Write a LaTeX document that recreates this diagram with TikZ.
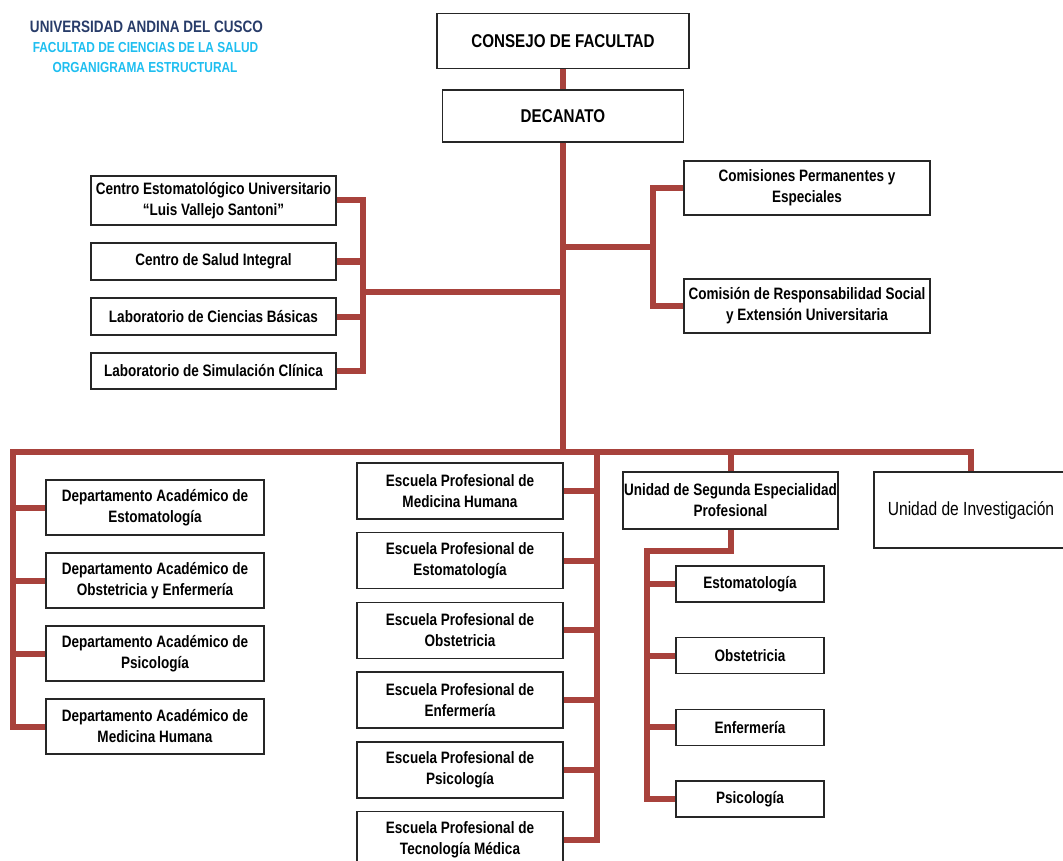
\documentclass[tikz,border=0pt]{standalone}
\usepackage{fontspec}
\setmainfont{Liberation Sans}[FakeStretch=0.82]
\usetikzlibrary{positioning}

\definecolor{linkred}{RGB}{168,66,60}
\definecolor{unidark}{RGB}{40,60,105}
\definecolor{unilight}{RGB}{30,190,240}

\tikzset{
  unit/.style={draw=black!85, line width=1.5pt, align=center, inner sep=0pt,
    font=\fontsize{16.5}{21}\selectfont\bfseries},
  link/.style={draw=linkred, line width=6pt},
  heading/.style={inner sep=0pt, font=\fontsize{14.5}{17}\selectfont\bfseries, text=unilight}
}

\begin{document}
\begin{tikzpicture}[x=1pt, y=-1pt]
      \useasboundingbox (0,0) rectangle (1063,861);

      % heading
      \node [heading, text=unidark, font=\fontsize{16.5}{20}\selectfont\bfseries] (uni) at (146.5,27) {UNIVERSIDAD ANDINA DEL CUSCO};
      \node [heading] (fac) at (145.5,48) {FACULTAD DE CIENCIAS DE LA SALUD};
      \node [heading] (org) at (145,68) {ORGANIGRAMA ESTRUCTURAL};

      % top
      \node [unit, minimum width=252, minimum height=55, font=\fontsize{18.5}{22}\selectfont\bfseries] (consejo) at (563,41) {CONSEJO DE FACULTAD};
      \node [unit, minimum width=241, minimum height=52, font=\fontsize{18.5}{22}\selectfont\bfseries] (decanato) at (563,116) {DECANATO};

      % left group
      \node [unit, minimum width=245, minimum height=49] (centro) at (213.5,200.5) {Centro Estomatológico Universitario\\“Luis Vallejo Santoni”};
      \node [unit, minimum width=245, minimum height=37] (salud) at (213.5,261.5) {Centro de Salud Integral};
      \node [unit, minimum width=245, minimum height=37] (labcb) at (213.5,316.5) {Laboratorio de Ciencias Básicas};
      \node [unit, minimum width=245, minimum height=36] (labsim) at (213.5,371) {Laboratorio de Simulación Clínica};

      % right group
      \node [unit, minimum width=246, minimum height=54] (comper) at (807,188) {Comisiones Permanentes y\\Especiales};
      \node [unit, minimum width=246, minimum height=54] (comres) at (807,306) {Comisión de Responsabilidad Social\\y Extensión Universitaria};

      % departamentos
      \begin{scope}[node distance=73pt, every node/.append style={unit, minimum width=218, minimum height=55}]
      \node (dep1) at (155,507.5) {Departamento Académico de\\Estomatología};
      \node [below of = dep1] (dep2) {Departamento Académico de\\Obstetricia y Enfermería};
      \node [below of = dep2] (dep3) {Departamento Académico de\\Psicología};
      \node [below of = dep3] (dep4) {Departamento Académico de\\Medicina Humana};
      \end{scope}

      % escuelas
      \begin{scope}[node distance=69.7pt, every node/.append style={unit, minimum width=206, minimum height=56}]
      \node (esc1) at (460,491) {Escuela Profesional de\\Medicina Humana};
      \node [below of = esc1] (esc2) {Escuela Profesional de\\Estomatología};
      \node [below of = esc2] (esc3) {Escuela Profesional de\\Obstetricia};
      \node [below of = esc3] (esc4) {Escuela Profesional de\\Enfermería};
      \node [below of = esc4] (esc5) {Escuela Profesional de\\Psicología};
      \node [below of = esc5] (esc6) {Escuela Profesional de\\Tecnología Médica};
      \end{scope}

      % segunda especialidad
      \node [unit, minimum width=215, minimum height=57] (seg) at (730.5,500.5) {Unidad de Segunda Especialidad\\Profesional};
      \begin{scope}[node distance=71.7pt, every node/.append style={unit, minimum width=148, minimum height=36}]
      \node (esp1) at (750,584) {Estomatología};
      \node [below of = esp1] (esp2) {Obstetricia};
      \node [below of = esp2] (esp3) {Enfermería};
      \node [below of = esp3] (esp4) {Psicología};
      \end{scope}

      \node [unit, minimum width=194, minimum height=76, font=\fontsize{19}{23}\selectfont] (inv) at (971,510) {Unidad de Investigación};

      % connectors
      \coordinate (busl)    at (13,452);
      \coordinate (escbus)  at (597,452);
      \coordinate (leftbr)  at (363,292);
      \coordinate (rightbr) at (653,247);
      \coordinate (segbr)   at (647,551);

      \draw[link] (consejo.south) -- (decanato.north);
      \draw[link] (decanato.south) -- (decanato.south |- busl);
      \draw[link] (dep4.west) -| (busl) -| (inv.north);
      \foreach \d in {dep1,dep2,dep3}
        \draw[link] (\d.west) -- (\d.west -| busl);

      \draw[link] (centro.east) -- (centro.east -| leftbr) -- (labsim.east -| leftbr) -- (labsim.east);
      \foreach \l in {salud,labcb}
        \draw[link] (\l.east) -- (\l.east -| leftbr);
      \draw[link] (leftbr) -- (decanato.south |- leftbr);

      \draw[link] (comper.west) -- (comper.west -| rightbr) -- (comres.west -| rightbr) -- (comres.west);
      \draw[link] (rightbr) -- (decanato.south |- rightbr);

      \draw[link] (escbus) |- (esc6.east);
      \foreach \e in {esc1,esc2,esc3,esc4,esc5}
        \draw[link] (\e.east) -- (\e.east -| escbus);

      \draw[link] (seg.north) -- (seg.north |- busl);
      \draw[link] (seg.south) |- (segbr) |- (esp4.west);
      \foreach \s in {esp1,esp2,esp3}
        \draw[link] (\s.west) -- (\s.west -| segbr);
    \end{tikzpicture}
\end{document}
